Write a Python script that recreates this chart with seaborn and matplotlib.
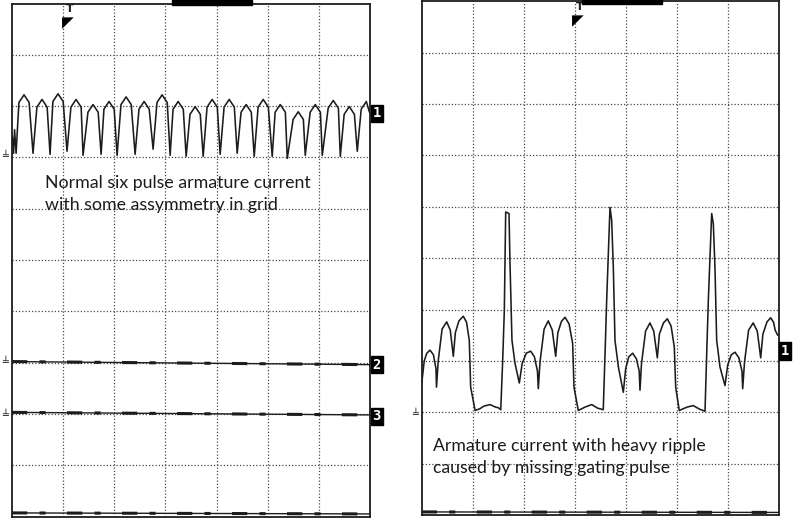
import matplotlib
matplotlib.use("Agg")
import matplotlib.pyplot as plt
from matplotlib.patches import Rectangle
import seaborn as sns

# --- trace data, in scope divisions (7 across, 10 up) ---

# left screen: six pulse armature current (channel 1)
left_ch1_x = [0.006, 0.03, 0.05, 0.08,
              0.135, 0.235, 0.335, 0.411,
              0.487, 0.587, 0.687, 0.744,
              0.800, 0.900, 1.000, 1.076,
              1.152, 1.252, 1.352, 1.389,
              1.485, 1.585, 1.685, 1.742,
              1.798, 1.898, 1.998, 2.055,
              2.131, 2.231, 2.331, 2.407,
              2.483, 2.583, 2.683, 2.759,
              2.835, 2.935, 3.035, 3.092,
              3.149, 3.249, 3.349, 3.405,
              3.481, 3.581, 3.681, 3.738,
              3.814, 3.914, 4.014, 4.070,
              4.147, 4.247, 4.347, 4.403,
              4.479, 4.579, 4.679, 4.736,
              4.812, 4.912, 5.012, 5.088,
              5.145, 5.245, 5.345, 5.382,
              5.497, 5.597, 5.697, 5.734,
              5.830, 5.930, 6.030, 6.067,
              6.182, 6.282, 6.382, 6.419,
              6.495, 6.595, 6.695, 6.751,
              6.828, 6.928, 6.990]
left_ch1_y = [7.41, 7.08, 7.54, 7.08,
              8.07, 8.22, 8.07, 7.08,
              7.98, 8.13, 7.98, 7.06,
              8.09, 8.24, 8.09, 7.12,
              7.98, 8.13, 7.98, 7.04,
              7.88, 8.03, 7.88, 7.06,
              7.94, 8.09, 7.94, 7.04,
              8.03, 8.18, 8.03, 7.06,
              7.94, 8.09, 7.94, 7.16,
              8.07, 8.22, 8.07, 7.04,
              7.94, 8.09, 7.94, 7.02,
              7.84, 7.99, 7.84, 7.02,
              7.98, 8.13, 7.98, 7.06,
              7.98, 8.13, 7.98, 7.08,
              7.88, 8.03, 7.88, 7.02,
              7.98, 8.13, 7.98, 7.02,
              7.88, 8.03, 7.88, 6.98,
              7.74, 7.89, 7.74, 7.04,
              7.88, 8.03, 7.88, 7.04,
              7.96, 8.11, 7.96, 7.02,
              7.84, 7.99, 7.84, 7.12,
              7.94, 8.09, 7.88]

# left screen: flat channels 2, 3 and bottom trace (start / end level)
left_flat_x = [0.0, 7.0]
left_ch2_y = [3.02, 2.96]
left_ch3_y = [2.03, 1.98]
left_ch4_y = [0.07, 0.05]

# right screen: armature current with missing gating pulse (channel 1)
right_ch1_x = [0.0, 0.05, 0.10, 0.163, 0.23, 0.28, 0.29,
               0.325, 0.40, 0.49, 0.56, 0.62,
               0.66, 0.73, 0.816, 0.88, 0.933, 0.96, 1.047, 1.143, 1.22, 1.339, 1.45, 1.50, 1.55,
               1.588, 1.62, 1.647, 1.712, 1.73, 1.77, 1.83, 1.914,
               1.97, 2.05, 2.137, 2.21, 2.27, 2.286,
               2.32, 2.40, 2.482, 2.56, 2.627,
               2.67, 2.74, 2.81, 2.89, 2.96, 2.986, 3.07, 3.2, 3.333, 3.45, 3.56,
               3.60, 3.627, 3.692, 3.725, 3.757, 3.79, 3.857, 3.953,
               4.0, 4.06, 4.137, 4.21, 4.265, 4.28,
               4.31, 4.39, 4.476, 4.55, 4.62,
               4.66, 4.74, 4.816, 4.89, 4.953, 4.98, 5.05, 5.2, 5.325, 5.45, 5.555,
               5.59, 5.62, 5.686, 5.718, 5.75, 5.784, 5.849, 5.947,
               6.0, 6.07, 6.143, 6.22, 6.28, 6.294,
               6.33, 6.41, 6.50, 6.58, 6.647,
               6.69, 6.77, 6.843, 6.9, 6.93, 6.98]
right_ch1_y = [2.56, 3.0, 3.15, 3.21, 3.12, 2.85, 2.49,
               3.01, 3.62, 3.76, 3.6, 3.09,
               3.55, 3.78, 3.87, 3.75, 3.40, 2.49, 2.035, 2.07, 2.12, 2.15, 2.10, 2.09, 2.05,
               3.01, 3.98, 5.90, 5.87, 4.96, 3.40, 2.95, 2.57,
               2.95, 3.15, 3.19, 3.08, 2.8, 2.46,
               2.98, 3.62, 3.78, 3.6, 3.09,
               3.55, 3.77, 3.85, 3.72, 3.34, 2.49, 2.035, 2.1, 2.15, 2.08, 2.05,
               3.3, 4.18, 5.99, 5.74, 4.83, 3.40, 2.88, 2.39,
               2.85, 3.08, 3.15, 3.04, 2.8, 2.43,
               2.95, 3.58, 3.74, 3.58, 3.06,
               3.52, 3.74, 3.82, 3.68, 3.27, 2.49, 2.035, 2.1, 2.13, 2.06, 2.02,
               3.2, 4.18, 5.87, 5.67, 4.83, 3.40, 2.88, 2.52,
               2.92, 3.12, 3.17, 3.06, 2.8, 2.46,
               2.98, 3.6, 3.74, 3.58, 3.06,
               3.52, 3.76, 3.84, 3.75, 3.6, 3.5]
right_flat_x = [0.0, 7.0]
right_ch4_y = [0.06, 0.05]

# channel tags at the right edge (label, level) and ground marks
left_tags = [("1", 7.86), ("2", 2.96), ("3", 1.95)]
right_tags = [("1", 3.19)]
left_grounds = [7.02, 3.0, 1.97]
right_grounds = [1.97]
left_trigger = 1.10
right_trigger = 3.06

left_text = ["Normal six pulse armature current", "with some assymmetry in grid"]
right_text = ["Armature current with heavy ripple", "caused by missing gating pulse"]

INK = "#1c1c1c"

sns.set_style("white")
plt.rcParams["font.family"] = ["Lato", "DejaVu Sans"]


def scope_screen(ax):
    ax.set_xlim(0, 7)
    ax.set_ylim(0, 10)
    ax.set_xticks(range(1, 7))
    ax.set_yticks(range(1, 10))
    ax.set_xticklabels([])
    ax.set_yticklabels([])
    ax.tick_params(length=0)
    ax.grid(True, color="#4a4a4a", linestyle=(0, (1, 1.6)), linewidth=0.9)
    for sp in ax.spines.values():
        sp.set_color(INK)
        sp.set_linewidth(1.3)


def trace(ax, x, y, lw=1.15):
    sns.lineplot(x=x, y=y, ax=ax, color=INK, linewidth=lw,
                 sort=False, estimator=None, legend=False)


def noisy_flat(ax, x, y):
    trace(ax, x, y, lw=1.0)
    ax.plot(x, y, color=INK, linewidth=2.2, linestyle=(0, (5, 4, 2, 7)),
            solid_capstyle="butt")


def tags(ax, items):
    for lab, lvl in items:
        ax.text(7.13, lvl, lab, ha="center", va="center", color="white",
                fontsize=10, fontweight="bold", family="DejaVu Sans Mono",
                clip_on=False,
                bbox=dict(boxstyle="square,pad=0.12", fc="black", ec="black"))


def grounds(ax, levels):
    for lvl in levels:
        ax.text(-0.13, lvl, "\u2567", ha="center", va="center", color=INK,
                fontsize=7, family="DejaVu Sans", clip_on=False)


def trigger(ax, xpos):
    ax.text(xpos + 0.03, 9.79, "T", ha="center", va="bottom", color=INK,
            fontsize=8, fontweight="bold", family="DejaVu Sans", clip_on=False)
    ax.text(xpos, 9.77, "\u25E4", ha="center", va="top", color="black",
            fontsize=11, family="DejaVu Sans", clip_on=False)


fig = plt.figure(figsize=(8, 5.2), dpi=100)
ax_l = fig.add_axes([12 / 800, 3.5 / 520, 358 / 800, 513 / 520])
ax_r = fig.add_axes([421.7 / 800, 5 / 520, 357 / 800, 513.6 / 520])

for ax in (ax_l, ax_r):
    scope_screen(ax)

trace(ax_l, left_ch1_x, left_ch1_y)
noisy_flat(ax_l, left_flat_x, left_ch2_y)
noisy_flat(ax_l, left_flat_x, left_ch3_y)
noisy_flat(ax_l, left_flat_x, left_ch4_y)
tags(ax_l, left_tags)
grounds(ax_l, left_grounds)
trigger(ax_l, left_trigger)

trace(ax_r, right_ch1_x, right_ch1_y)
noisy_flat(ax_r, right_flat_x, right_ch4_y)
tags(ax_r, right_tags)
grounds(ax_r, right_grounds)
trigger(ax_r, right_trigger)

# annotation text
ax_l.text(0.646, 6.40, left_text[0], fontsize=12.8, color=INK, va="baseline")
ax_l.text(0.646, 5.97, left_text[1], fontsize=12.8, color=INK, va="baseline")
ax_r.text(0.216, 1.255, right_text[0], fontsize=12.7, color=INK, va="baseline")
ax_r.text(0.216, 0.814, right_text[1], fontsize=12.7, color=INK, va="baseline")

# cut-off "Memory" banners at the top edge
fig.patches.append(Rectangle((172 / 800, 1 - 5 / 520), 80 / 800, 5 / 520,
                             transform=fig.transFigure, color="black"))
fig.patches.append(Rectangle((582 / 800, 1 - 3.5 / 520), 80 / 800, 3.5 / 520,
                             transform=fig.transFigure, color="black"))

fig.savefig("out.png", dpi=100, facecolor="white")
plt.close(fig)
